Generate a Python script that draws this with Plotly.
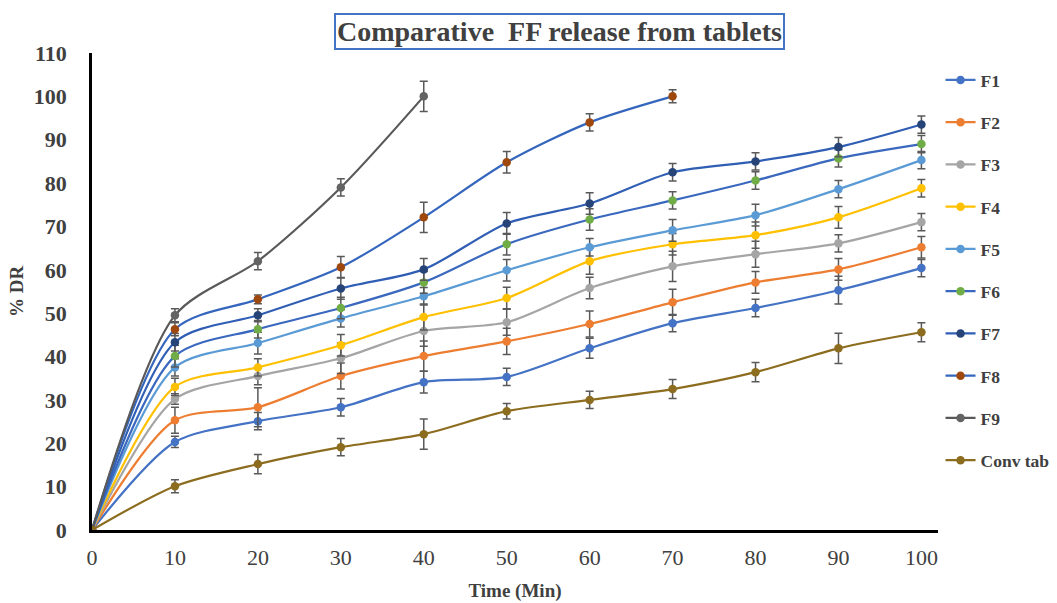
import plotly.graph_objects as go

time = [0, 10, 20, 30, 40, 50, 60, 70, 80, 90, 100]
time_f8 = [0, 10, 20, 30, 40, 50, 60, 70]
time_f9 = [0, 10, 20, 30, 40]

f1 = [0, 20.3, 25.1, 28.3, 34.1, 35.3, 41.9, 47.7, 51.2, 55.3, 60.4]
f2 = [0, 25.3, 28.3, 35.5, 40.1, 43.5, 47.5, 52.5, 57.1, 60.1, 65.2]
f3 = [0, 30.2, 35.5, 39.6, 45.9, 47.9, 55.8, 60.8, 63.6, 66.1, 71.0]
f4 = [0, 33.0, 37.5, 42.6, 49.1, 53.5, 62.0, 65.9, 68.0, 72.1, 78.8]
f5 = [0, 37.5, 43.1, 48.8, 53.9, 59.9, 65.2, 69.1, 72.6, 78.6, 85.3]
f6 = [0, 40.1, 46.3, 51.2, 57.1, 65.9, 71.6, 76.0, 80.6, 85.7, 89.0]
f7 = [0, 43.3, 49.5, 55.7, 60.1, 70.7, 75.3, 82.5, 85.0, 88.3, 93.5]
f8 = [0, 46.3, 53.2, 60.6, 72.1, 84.8, 94.0, 100.0]
f9 = [0, 49.5, 62.0, 79.0, 100.0]
conv = [0, 10.1, 15.2, 19.1, 22.1, 27.4, 30.0, 32.5, 36.4, 41.9, 45.6]

e1 = [0, 1.3, 2.0, 2.0, 2.5, 2.0, 2.3, 2.0, 2.0, 3.2, 2.0]
e2 = [0, 3.0, 4.5, 3.0, 3.5, 3.0, 3.0, 3.0, 2.5, 2.5, 2.5]
e3 = [0, 1.2, 2.0, 3.5, 3.5, 3.0, 2.5, 3.5, 3.0, 2.0, 2.0]
e4 = [0, 2.0, 2.0, 2.5, 3.0, 2.5, 3.0, 2.5, 3.0, 2.5, 2.0]
e5 = [0, 2.0, 2.5, 2.0, 2.0, 2.5, 2.0, 2.5, 2.5, 2.0, 2.0]
e6 = [0, 2.5, 2.0, 2.5, 2.5, 2.5, 2.5, 2.0, 2.0, 2.0, 2.0]
e7 = [0, 2.0, 1.5, 2.5, 2.5, 2.5, 2.5, 2.0, 2.0, 2.2, 2.0]
e8 = [0, 1.5, 1.0, 2.5, 3.5, 2.5, 2.0, 1.5]
e9 = [0, 1.5, 2.0, 2.0, 3.5]
ec = [0, 1.5, 2.2, 2.0, 3.5, 1.8, 2.0, 2.2, 2.2, 3.5, 2.2]

names = ["F1", "F2", "F3", "F4", "F5", "F6", "F7", "F8", "F9", "Conv tab"]
xs = [time, time, time, time, time, time, time, time_f8, time_f9, time]
ys = [f1, f2, f3, f4, f5, f6, f7, f8, f9, conv]
errs = [e1, e2, e3, e4, e5, e6, e7, e8, e9, ec]
line_colors = ["#4472C4", "#ED7D31", "#A5A5A5", "#FFC000", "#5B9BD5",
               "#3A68BE", "#2F5EB4", "#3566BD", "#595959", "#8C6D1F"]
marker_colors = ["#4472C4", "#ED7D31", "#A5A5A5", "#FFC000", "#5B9BD5",
                 "#70AD47", "#264478", "#9E480E", "#636363", "#8C6D1F"]

FONT = "Liberation Serif"
TXT = "#404040"

fig = go.Figure()
for i in range(len(names)):
    fig.add_trace(go.Scatter(
        x=xs[i], y=ys[i], name="<b>" + names[i] + "</b>", mode="lines+markers",
        legendgroup=names[i],
        line=dict(color=line_colors[i], width=2.2, shape="spline", smoothing=0.8),
        marker=dict(color=marker_colors[i], size=8.5, symbol="circle"),
        error_y=dict(type="data", array=errs[i], visible=True,
                     color="#595959", thickness=1.5, width=4),
    ))

fig.update_layout(
    width=1057, height=603,
    margin=dict(l=92, r=119, t=53, b=73, autoexpand=False),
    paper_bgcolor="white", plot_bgcolor="white",
    font=dict(family=FONT, color=TXT),
    showlegend=True,
    legend=dict(x=1.003, xanchor="left", y=0.981, yanchor="top",
                font=dict(family=FONT, size=17.5, color=TXT),
                tracegroupgap=16.5, itemwidth=30, bgcolor="rgba(0,0,0,0)"),
    xaxis=dict(range=[0, 102], tickmode="array", tickvals=time,
               ticktext=[str(t) for t in time],
               showgrid=False, zeroline=False, showline=True,
               linecolor="black", linewidth=2.5, ticks="",
               ticklabelstandoff=6,
               tickfont=dict(family=FONT, size=22, color=TXT),
               title=dict(text="<b>Time (Min)</b>", standoff=15,
                          font=dict(family=FONT, size=19, color=TXT))),
    yaxis=dict(range=[0, 110], tickmode="linear", tick0=0, dtick=10,
               showgrid=False, zeroline=False, showline=True,
               linecolor="black", linewidth=2.5, ticks="",
               ticklabelstandoff=18,
               tickfont=dict(family=FONT, size=22, color=TXT),
               title=dict(text="<b>% DR</b>", standoff=6,
                          font=dict(family=FONT, size=19, color=TXT))),
    annotations=[dict(
        text="<b>Comparative  FF release from tablets</b>",
        xref="paper", yref="paper", x=0.553, y=1.046,
        xanchor="center", yanchor="middle", showarrow=False,
        font=dict(family=FONT, size=28, color=TXT),
        bordercolor="#4472C4", borderwidth=2, borderpad=1, bgcolor="white")],
)
fig.update_xaxes(tickprefix="<b>", ticksuffix="</b>")
fig.update_yaxes(tickprefix="<b>", ticksuffix="</b>")

fig.write_html("out.html")
